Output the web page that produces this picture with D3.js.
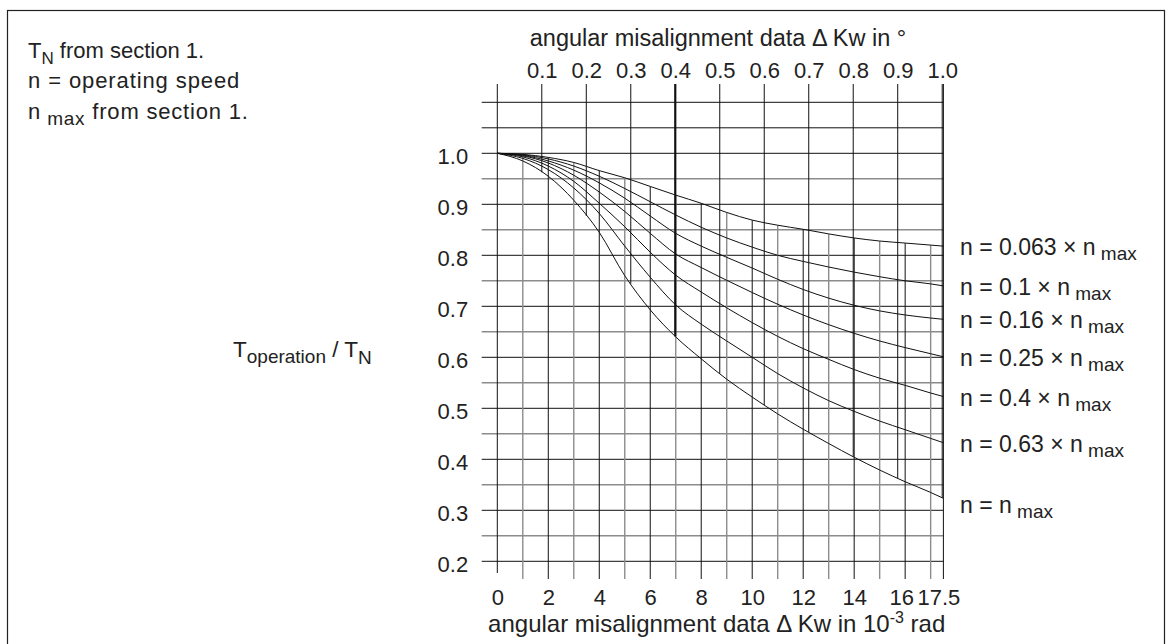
<!DOCTYPE html>
<html>
<head>
<meta charset="utf-8">
<script src="https://cdn.jsdelivr.net/npm/d3@7"></script>
<style>
  body { margin: 0; background: #fff; }
  svg { display: block; font-family: "Liberation Sans", Arial, Helvetica, sans-serif; }
  text { fill: #222; }
</style>
</head>
<body>
<svg id="chart" width="1173" height="644"></svg>
<script>
// x positions in 10^-3 rad
const radSteps = [0, 1, 2, 3, 4, 5, 6, 7, 8, 9, 10, 11, 12, 13, 14, 15, 16, 17, 17.5];
const radLabels = [0, 2, 4, 6, 8, 10, 12, 14, 16, 17.5];
const degLabels = [0.1, 0.2, 0.3, 0.4, 0.5, 0.6, 0.7, 0.8, 0.9, 1.0];
const yLabels = [0.2, 0.3, 0.4, 0.5, 0.6, 0.7, 0.8, 0.9, 1.0];
const yGrid = [0.2, 0.25, 0.3, 0.35, 0.4, 0.45, 0.5, 0.55, 0.6, 0.65, 0.7, 0.75, 0.8, 0.85, 0.9, 0.95, 1.0, 1.05, 1.1];

// T_operation / T_N read at each radStep
const n0063 = [1.0, .998, .992, .982, .966, .952, .935, .918, .902, .884, .869, .859, .851, .842, .834, .828, .824, .820, .818];
const n01   = [1.0, .997, .989, .975, .955, .931, .905, .879, .855, .834, .816, .800, .788, .777, .767, .758, .750, .744, .740];
const n016  = [1.0, .996, .985, .967, .942, .912, .877, .843, .818, .796, .775, .753, .733, .716, .702, .691, .683, .677, .6745];
const n025  = [1.0, .995, .981, .957, .924, .886, .843, .8025, .776, .751, .727, .704, .683, .664, .647, .632, .619, .607, .601];
const n04   = [1.0, .993, .975, .945, .902, .856, .806, .761, .728, .697, .668, .641, .617, .596, .576, .559, .545, .530, .523];
const n063  = [1.0, .990, .968, .932, .882, .818, .757, .7026, .665, .632, .600, .568, .540, .515, .494, .475, .458, .441, .4325];
const nmax  = [1.0, .985, .955, .908, .845, .760, .693, .640, .597, .557, .522, .489, .459, .431, .404, .379, .356, .335, .3235];

const seriesValues = [n0063, n01, n016, n025, n04, n063, nmax];
const seriesFactors = ["0.063", "0.1", "0.16", "0.25", "0.4", "0.63", null];

const svg = d3.select("#chart");

const x = d3.scaleLinear().domain([0, 17.5]).range([497.3, 943.4]);
const y = d3.scaleLinear().domain([0.2, 1.1]).range([561.3, 102.3]);
const degToRad = d => d * Math.PI / 180 * 1000;

const topY = 84;
const gridLeft = 481.7;
const tickBottom = y(0.2) + 17.7;

// frame
svg.append("rect")
    .attr("x", 7.5).attr("y", 10.5)
    .attr("width", 1157).attr("height", 640)
    .attr("fill", "none").attr("stroke", "#222").attr("stroke-width", 1.2);

// value of a curve at u (linear between read points)
function valueAt(vals, u) {
    return d3.scaleLinear().domain(radSteps).range(vals)(u);
}

// horizontal grid
svg.append("g").selectAll("line")
    .data(yGrid)
    .enter()
    .append("line")
    .attr("x1", gridLeft).attr("x2", x(17.5))
    .attr("y1", d => y(d)).attr("y2", d => y(d))
    .attr("stroke", d => (Math.round(d * 100) % 10 === 0 || d > 1) ? "#111" : "#8c8c8c")
    .attr("stroke-width", d => (Math.round(d * 100) % 10 === 0 || d > 1) ? 1 : 1.4);

// rad grid lines: from the bottom up to the top curve
svg.append("g").selectAll("line")
    .data(radSteps)
    .enter()
    .append("line")
    .attr("x1", d => x(d)).attr("x2", d => x(d))
    .attr("y1", d => d === 0 ? y(0.2) + 11.7 : tickBottom)
    .attr("y2", d => (d === 0 || d === 17.5) ? topY : y(valueAt(n0063, d)))
    .attr("stroke", d => (d % 2 === 0 || d === 17.5) ? "#111" : "#8c8c8c")
    .attr("stroke-width", d => (d % 2 === 0 || d === 17.5) ? 1 : 1.4);

// degree lines: from the top down to the n_max curve
svg.append("g").selectAll("line")
    .data(degLabels)
    .enter()
    .append("line")
    .attr("x1", d => x(degToRad(d))).attr("x2", d => x(degToRad(d)))
    .attr("y1", topY)
    .attr("y2", d => y(valueAt(nmax, degToRad(d))))
    .attr("stroke", "#111")
    .attr("stroke-width", d => d === 0.4 ? 2.2 : 1);

// curves
const line = d3.line()
    .x((d, i) => x(radSteps[i]))
    .y(d => y(d))
    .curve(d3.curveMonotoneX);

svg.append("g").selectAll("path")
    .data(seriesValues)
    .enter()
    .append("path")
    .attr("d", d => line(d))
    .attr("fill", "none")
    .attr("stroke", "#111")
    .attr("stroke-width", 1);

// y axis labels
const yAxis = svg.append("g")
    .attr("transform", `translate(${gridLeft}, 0)`)
    .call(d3.axisLeft(y).tickValues(yLabels).tickFormat(d3.format(".1f")).tickSize(0).tickPadding(13.5));
yAxis.select(".domain").remove();
yAxis.selectAll("text")
    .attr("font-size", 22).attr("font-family", null).attr("dy", "0.45em").attr("fill", "#222");

// bottom axis labels
const xAxis = svg.append("g")
    .attr("transform", `translate(0, ${y(0.2)})`)
    .call(d3.axisBottom(x).tickValues(radLabels).tickFormat(d => d).tickSize(0).tickPadding(0));
xAxis.select(".domain").remove();
xAxis.selectAll("text")
    .attr("font-size", 22).attr("font-family", null).attr("fill", "#222")
    .attr("y", 43.7).attr("dy", null)
    .attr("dx", d => d === 16 ? -4 : d === 17.5 ? -5 : 0);

// top axis labels (degrees)
const topAxis = svg.append("g")
    .attr("transform", `translate(0, ${topY})`)
    .call(d3.axisTop(d3.scaleLinear().domain([0, 17.5 * 180 / Math.PI / 1000]).range(x.range()))
        .tickValues(degLabels).tickFormat(d3.format(".1f")).tickSize(0).tickPadding(0));
topAxis.select(".domain").remove();
topAxis.selectAll("text")
    .attr("font-size", 22).attr("font-family", null).attr("fill", "#222")
    .attr("y", -6).attr("dy", null);

// axis titles
svg.append("text")
    .attr("x", 718).attr("y", 46)
    .attr("text-anchor", "middle").attr("font-size", 23.5)
    .text("angular misalignment data \u0394 Kw in \u00b0");

const bottomTitle = svg.append("text")
    .attr("x", 716.7).attr("y", 632)
    .attr("text-anchor", "middle").attr("font-size", 24);
bottomTitle.append("tspan").text("angular misalignment data \u0394 Kw in 10");
bottomTitle.append("tspan").attr("font-size", 16).attr("dy", -9).text("-3");
bottomTitle.append("tspan").attr("dy", 9).text(" rad");

// y title
const yTitle = svg.append("text")
    .attr("x", 233).attr("y", 357).attr("font-size", 22.5);
yTitle.append("tspan").text("T");
yTitle.append("tspan").attr("font-size", 19).attr("dy", 6).text("operation");
yTitle.append("tspan").attr("dy", -6).text(" / T");
yTitle.append("tspan").attr("font-size", 19).attr("dy", 7).text("N");

// notes
const note1 = svg.append("text").attr("x", 28).attr("y", 58).attr("font-size", 22);
note1.append("tspan").text("T");
note1.append("tspan").attr("font-size", 17).attr("dy", 6).text("N");
note1.append("tspan").attr("dy", -6).text(" from section 1.");

svg.append("text").attr("x", 28).attr("y", 88).attr("font-size", 22)
    .attr("letter-spacing", 0.9)
    .text("n = operating speed");

const note3 = svg.append("text").attr("x", 28).attr("y", 119).attr("font-size", 22)
    .attr("letter-spacing", 0.8);
note3.append("tspan").text("n");
note3.append("tspan").attr("font-size", 19).attr("dy", 6).text(" max");
note3.append("tspan").attr("dy", -6).text(" from section 1.");

// curve labels
const labels = svg.append("g").selectAll("text")
    .data(seriesValues)
    .enter()
    .append("text")
    .attr("x", 960)
    .attr("y", (d, i) => y(d[d.length - 1]) + (i === seriesValues.length - 1 ? 15 : 9))
    .attr("font-size", 23);

labels.append("tspan").text((d, i) => seriesFactors[i] ? `n = ${seriesFactors[i]} \u00d7 n` : "n = n");
labels.append("tspan").attr("font-size", 19).attr("dy", 5).text(" max");
</script>
</body>
</html>
